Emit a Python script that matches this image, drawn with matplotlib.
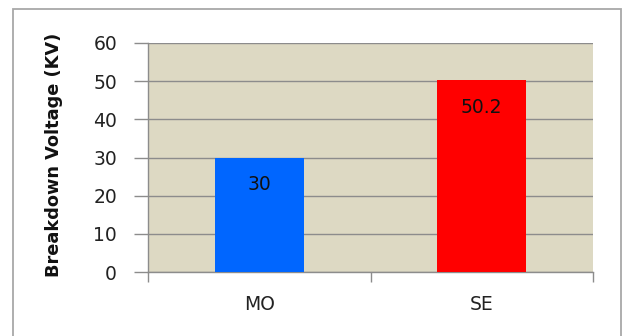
import matplotlib
matplotlib.use("Agg")
import matplotlib.pyplot as plt
from matplotlib.patches import Rectangle

categories = ["MO", "SE"]
values = [30, 50.2]
value_labels = ["30", "50.2"]
bar_colors = ["#0066FF", "#FF0000"]
y_ticks = [0, 10, 20, 30, 40, 50, 60]

DPI = 100
PX = 72 / DPI  # points per pixel
fig = plt.figure(figsize=(6.22, 3.36), dpi=DPI)
fig.patch.set_facecolor("white")

# outer chart frame
fig.patches.append(Rectangle((13 / 622, -0.05), (621 - 13) / 622, 1.05 - 9 / 336,
                             transform=fig.transFigure, fill=False,
                             edgecolor="#a8a8a8", linewidth=1.3))

ax = fig.add_axes([148 / 622, 1 - 272 / 336, (593 - 148) / 622, (272 - 43) / 336])
ax.set_facecolor("#DDD9C3")

x = range(len(categories))
ax.bar(x, values, width=0.4, color=bar_colors, zorder=3)

ax.set_xlim(-0.5, len(categories) - 0.5)
ax.set_ylim(0, 60)
ax.set_yticks(y_ticks)
ax.yaxis.grid(True, color="#8c8c8c", linewidth=1.0, zorder=0)
ax.set_axisbelow(True)

ax.set_xticks(list(x))
ax.set_xticklabels(categories)
ax.set_xticks([-0.5, 0.5, 1.5], minor=True)
ax.tick_params(axis="x", which="major", length=0, pad=23 * PX, labelsize=13.5,
               labelcolor="#222222")
ax.tick_params(axis="x", which="minor", length=7, color="#8c8c8c", width=1.0)
ax.tick_params(axis="y", length=10, color="#8c8c8c", width=1.0, pad=17 * PX,
               labelsize=13.5, labelcolor="#222222")

for side in ["top", "right"]:
    ax.spines[side].set_visible(False)
for side in ["left", "bottom"]:
    ax.spines[side].set_color("#8c8c8c")
    ax.spines[side].set_linewidth(1.0)

ax.set_ylabel("Breakdown Voltage (KV)", fontsize=12.8, fontweight="bold",
              family="DejaVu Sans", color="#111111")
ax.yaxis.set_label_coords((63 - 148) / 445, (272 - 155) / 229)

for xi, v, lab in zip(x, values, value_labels):
    ax.annotate(lab, (xi, v), xytext=(0, -27 * PX), textcoords="offset points",
                ha="center", va="center", fontsize=13.5, color="#111111", zorder=4)

fig.savefig("out.png", dpi=DPI)
